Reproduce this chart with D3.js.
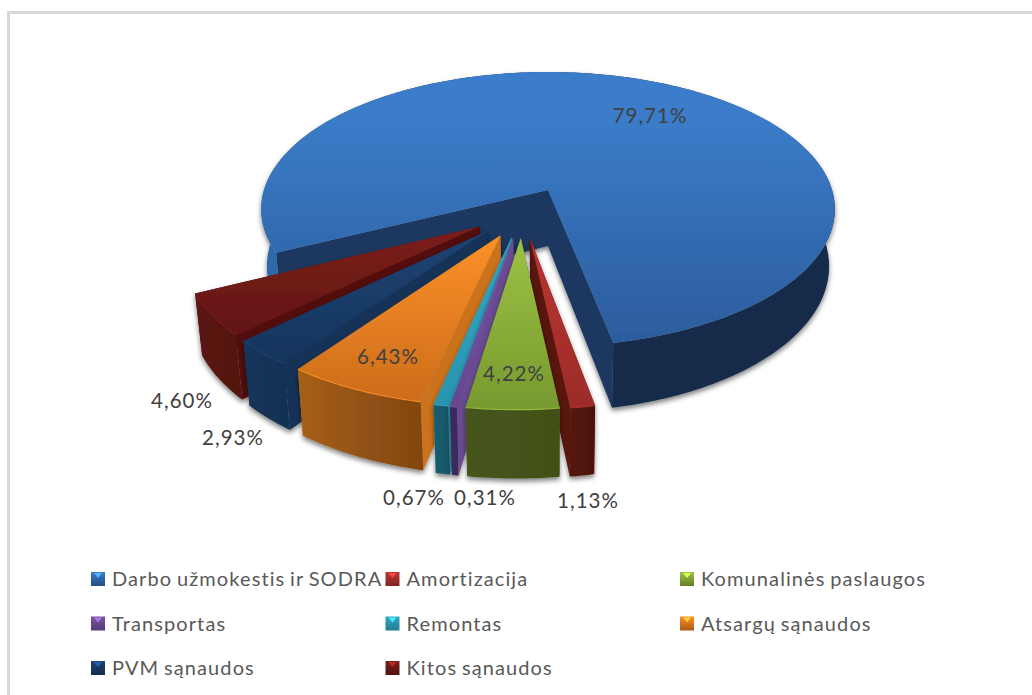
<!DOCTYPE html>
<html>
<head>
<meta charset="utf-8">
<script src="https://cdn.jsdelivr.net/npm/d3@7/dist/d3.min.js"></script>
<style>
html,body{margin:0;padding:0;background:#fff;overflow:hidden}
svg{display:block}
text{font-family:Lato,"Open Sans",sans-serif}
</style>
</head>
<body>
<svg id="chart" width="1032" height="695"></svg>
<script>
// ---- data ----
const categories = ["Darbo užmokestis ir SODRA","Amortizacija","Komunalinės paslaugos","Transportas","Remontas","Atsargų sąnaudos","PVM sąnaudos","Kitos sąnaudos"];
const shares = [79.71,1.13,4.22,0.31,0.67,6.43,2.93,4.60];
const shareLabels = ["79,71%","1,13%","4,22%","0,31%","0,67%","6,43%","2,93%","4,60%"];

// ---- styles ----
const topLight  = ["#3b7dca","#bb3431","#9dc244","#7b55a2","#31a8c6","#fb9127","#1d4474","#7c1f1b"];
const topDark   = ["#2c5c9c","#9c2c29","#77992f","#664690","#2a94ae","#cd6c1c","#16345c","#621614"];
const sideColor = ["#1a3960","#59130f","#4c5c1f","#6b4b93","#2b9cb8","#cb731f","#123156","#52100e"];
const wallLeft  = ["#2f6aaa","#561411","#46541c","#3d2c5e","#1a5e6e","#a55f16","#14365c","#5c1612"];
const wallRight = ["#14294a","#4c110e","#425018","#3a2958","#175766","#824610","#113052","#501310"];

// ---- layout ----
const W=1032,H=695;
const CX=548,CY=190,RX=284,RY=134.5,PERSP=0.14,DEPTH=56,EXPLODE=0.18,SHRINK=0.02,RAD=0.99;
const labelPos = [[650,115],[588,500],[514,373],[485,497],[414,497],[388,356],[233,437],[182,400]];
const deg=Math.PI/180;
// the tilted view opens the front of the pie slightly
const viewAngle=d3.scaleLinear().domain([244,531,604]).range([244,528.6,604]);

const svg=d3.select("#chart");
const defs=svg.append("defs");

svg.append("rect").attr("width",W).attr("height",H).attr("fill","#fff");
svg.append("path").attr("d","M8.5,695V12.5H1032").attr("fill","none").attr("stroke","#d9d9d9").attr("stroke-width",3);

const f=defs.append("filter").attr("id","sh").attr("x","-10%").attr("y","-10%").attr("width","120%").attr("height","125%");
f.append("feDropShadow").attr("dx",0).attr("dy",3).attr("stdDeviation",2.5).attr("flood-color","#000").attr("flood-opacity",0.5);

const color=d3.scaleOrdinal().domain(categories).range(topLight);

const arcs=d3.pie().value(d=>d).sort(null).startAngle(244*deg).endAngle((244+360)*deg)(shares);
const bigMid=(arcs[0].startAngle+arcs[0].endAngle)/2;
const c0=[-EXPLODE*Math.sin(bigMid),EXPLODE*Math.cos(bigMid)];

function project(X,Y,z){
  const s=1/(1-PERSP*Y);
  return [CX+RX*X*s*(1-SHRINK*z),CY+RY*Y*s+DEPTH*s*z];
}
const line=d3.line();
const slices=arcs.map((a,i)=>{
  const mid=(a.startAngle+a.endAngle)/2;
  const off=i===0?[0,0]:[c0[0]+EXPLODE*Math.sin(mid),c0[1]-EXPLODE*Math.cos(mid)];
  const r=i===0?1:RAD;
  const g=(t,z)=>{
    const v=viewAngle(t/deg)*deg;
    return project(off[0]+r*Math.sin(v),off[1]-r*Math.cos(v),z);
  };
  const n=Math.max(4,Math.ceil((a.endAngle-a.startAngle)/deg));
  const ts=d3.range(n+1).map(k=>a.startAngle+(a.endAngle-a.startAngle)*k/n);
  return {i,mid,g,ts,apexTop:project(off[0],off[1],0),apexBot:project(off[0],off[1],1),
          order:Math.abs(((mid/deg)%360)-180)};
});

slices.slice().sort((p,q)=>q.order-p.order).forEach(s=>{
  const i=s.i;
  const grp=svg.append("g").attr("filter","url(#sh)");
  const topPts=s.ts.map(t=>s.g(t,0));
  const botPts=s.ts.map(t=>s.g(t,1));
  const xs=[...topPts,...botPts].map(p=>p[0]);
  const ys=topPts.map(p=>p[1]).concat([s.apexTop[1]]);

  const tg=defs.append("linearGradient").attr("id","t"+i).attr("gradientUnits","userSpaceOnUse")
    .attr("x1",0).attr("x2",0).attr("y1",d3.min(ys)).attr("y2",d3.max(ys));
  tg.append("stop").attr("offset",0).attr("stop-color",color(categories[i]));
  if(i===0) tg.append("stop").attr("offset",0.15).attr("stop-color",topLight[0]);
  tg.append("stop").attr("offset",1).attr("stop-color",topDark[i]);

  const wg=defs.append("linearGradient").attr("id","w"+i).attr("gradientUnits","userSpaceOnUse")
    .attr("x1",d3.min(xs)).attr("x2",d3.max(xs)).attr("y1",0).attr("y2",0);
  if(i===0){
    wg.append("stop").attr("offset",0).attr("stop-color",wallLeft[0]);
    wg.append("stop").attr("offset",0.04).attr("stop-color",wallLeft[0]);
    wg.append("stop").attr("offset",0.06).attr("stop-color",wallRight[0]);
    wg.append("stop").attr("offset",1).attr("stop-color",wallRight[0]);
  } else {
    wg.append("stop").attr("offset",0).attr("stop-color",wallLeft[i]);
    wg.append("stop").attr("offset",1).attr("stop-color",wallRight[i]);
  }

  // radial walls
  [0,s.ts.length-1].forEach(k=>{
    grp.append("path")
      .attr("d",line([s.apexTop,topPts[k],botPts[k],s.apexBot])+"Z")
      .attr("fill",sideColor[i]);
  });
  // outer wall
  grp.append("path")
    .attr("d",line([...topPts,...botPts.slice().reverse()])+"Z")
    .attr("fill",`url(#w${i})`);
  // top face
  grp.append("path")
    .attr("d",line([s.apexTop,...topPts])+"Z")
    .attr("fill",`url(#t${i})`);
  if(i>0){
    grp.append("path").attr("d",line(topPts)).attr("fill","none")
      .attr("stroke",topLight[i]).attr("stroke-width",1.2).attr("stroke-opacity",0.8);
  }
});

// ---- value labels ----
svg.append("g").selectAll("text").data(shareLabels).join("text")
  .attr("x",(d,i)=>labelPos[i][0]).attr("y",(d,i)=>labelPos[i][1])
  .attr("text-anchor","middle").attr("dominant-baseline","central")
  .attr("font-size",20.5).attr("letter-spacing",1).attr("fill","#404040").text(d=>d);

// ---- legend ----
const legendCols=d3.scalePoint().domain([0,1,2]).range([91,680]);
const legendRows=d3.scalePoint().domain([0,1,2]).range([578,667]);
const leg=svg.append("g").selectAll("g").data(categories).join("g")
  .attr("transform",(d,i)=>`translate(${legendCols(i%3)},${legendRows(Math.floor(i/3))})`);
categories.forEach((c,i)=>{
  const lg=defs.append("linearGradient").attr("id","l"+i).attr("x1",0).attr("x2",0).attr("y1",0).attr("y2",1);
  lg.append("stop").attr("offset",0).attr("stop-color",topLight[i]);
  lg.append("stop").attr("offset",1).attr("stop-color",d3.color(topDark[i]).darker(0.5));
});
leg.append("rect").attr("x",0).attr("y",-6).attr("width",14).attr("height",14).attr("fill",(d,i)=>`url(#l${i})`);
leg.append("path").attr("d","M3,-5H11L7,0Z").attr("fill",(d,i)=>d3.color(topLight[i]).brighter(1));
leg.append("text").attr("x",21).attr("y",0).attr("dominant-baseline","central")
  .attr("font-size",20).attr("letter-spacing",1.1).attr("word-spacing",-1.5).attr("fill","#595959").text(d=>d);
</script>
</body>
</html>
